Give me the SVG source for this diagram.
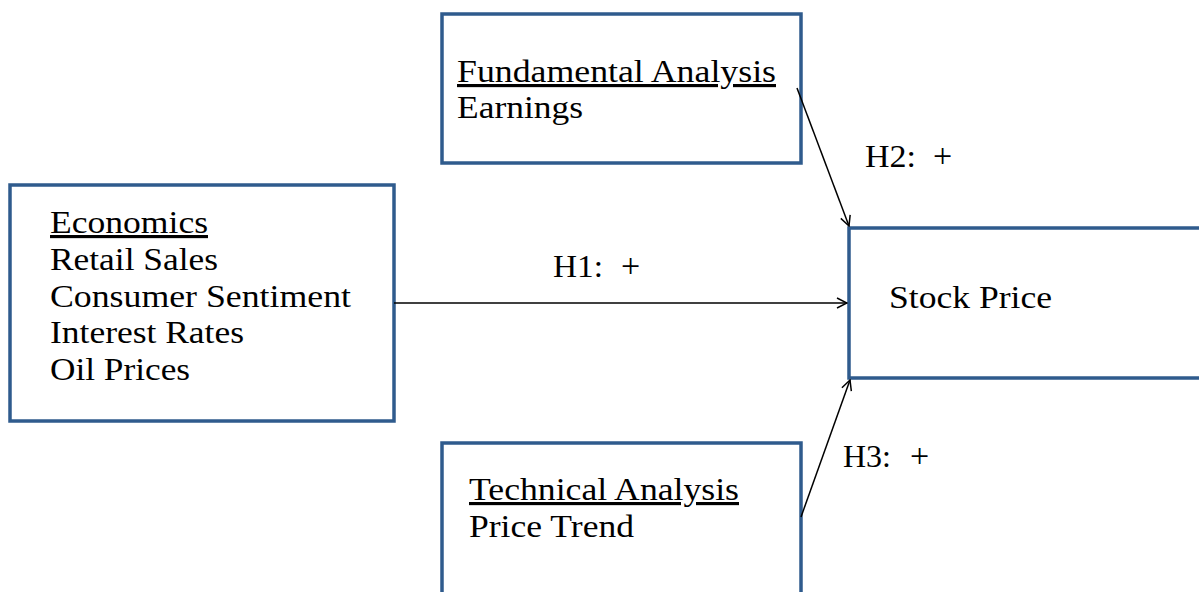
<svg xmlns="http://www.w3.org/2000/svg" width="1199" height="592" viewBox="0 0 1199 592">
<style>
.box{fill:#fff;stroke:#2F5B8D;stroke-width:3.5}
.t{font-family:"Liberation Serif","Times New Roman",serif;font-size:31.5px;fill:#000}
.p{font-family:"Liberation Serif","Times New Roman",serif;font-size:34px;fill:#000}
.u{text-decoration:underline}
.c{stroke:#000;stroke-width:1.5;fill:none}
</style>
<defs>
<marker id="ah" viewBox="0 0 12 12" refX="11" refY="6" markerWidth="12" markerHeight="12" markerUnits="userSpaceOnUse" orient="auto">
<path d="M1,1 L11,6 L1,11" fill="none" stroke="#000" stroke-width="1.5"/>
</marker>
</defs>
<rect width="1199" height="592" fill="#fff"/>
<g id="economics">
<rect class="box" x="10" y="185" width="384" height="236"/>
<text class="t u" x="50" y="233" textLength="158" lengthAdjust="spacingAndGlyphs">Economics</text>
<text class="t" x="50" y="270" textLength="168" lengthAdjust="spacingAndGlyphs">Retail Sales</text>
<text class="t" x="50" y="307" textLength="301" lengthAdjust="spacingAndGlyphs">Consumer Sentiment</text>
<text class="t" x="50" y="343" textLength="194" lengthAdjust="spacingAndGlyphs">Interest Rates</text>
<text class="t" x="50" y="380" textLength="140" lengthAdjust="spacingAndGlyphs">Oil Prices</text>
</g>
<g id="fundamental">
<rect class="box" x="442" y="14" width="359" height="149"/>
<text class="t u" x="457" y="82" textLength="319" lengthAdjust="spacingAndGlyphs">Fundamental Analysis</text>
<text class="t" x="457" y="118" textLength="126" lengthAdjust="spacingAndGlyphs">Earnings</text>
</g>
<g id="stock">
<rect class="box" x="849" y="228" width="360" height="150"/>
<text class="t" x="889" y="308" textLength="163" lengthAdjust="spacingAndGlyphs">Stock Price</text>
</g>
<g id="technical">
<rect class="box" x="442" y="443" width="359" height="160"/>
<text class="t u" x="469" y="500" textLength="270" lengthAdjust="spacingAndGlyphs">Technical Analysis</text>
<text class="t" x="469" y="537" textLength="165" lengthAdjust="spacingAndGlyphs">Price Trend</text>
</g>
<g id="connectors">
<line class="c" x1="394" y1="303" x2="847" y2="303" marker-end="url(#ah)"/>
<line class="c" x1="797" y1="88" x2="849" y2="226" marker-end="url(#ah)"/>
<line class="c" x1="801" y1="517" x2="850" y2="380" marker-end="url(#ah)"/>
<text class="t" x="553" y="277" textLength="50" lengthAdjust="spacingAndGlyphs">H1:</text>
<text class="p" x="621" y="277">+</text>
<text class="t" x="865" y="167" textLength="51" lengthAdjust="spacingAndGlyphs">H2:</text>
<text class="p" x="933" y="167">+</text>
<text class="t" x="843" y="467" textLength="48" lengthAdjust="spacingAndGlyphs">H3:</text>
<text class="p" x="910" y="467">+</text>
</g>
</svg>
